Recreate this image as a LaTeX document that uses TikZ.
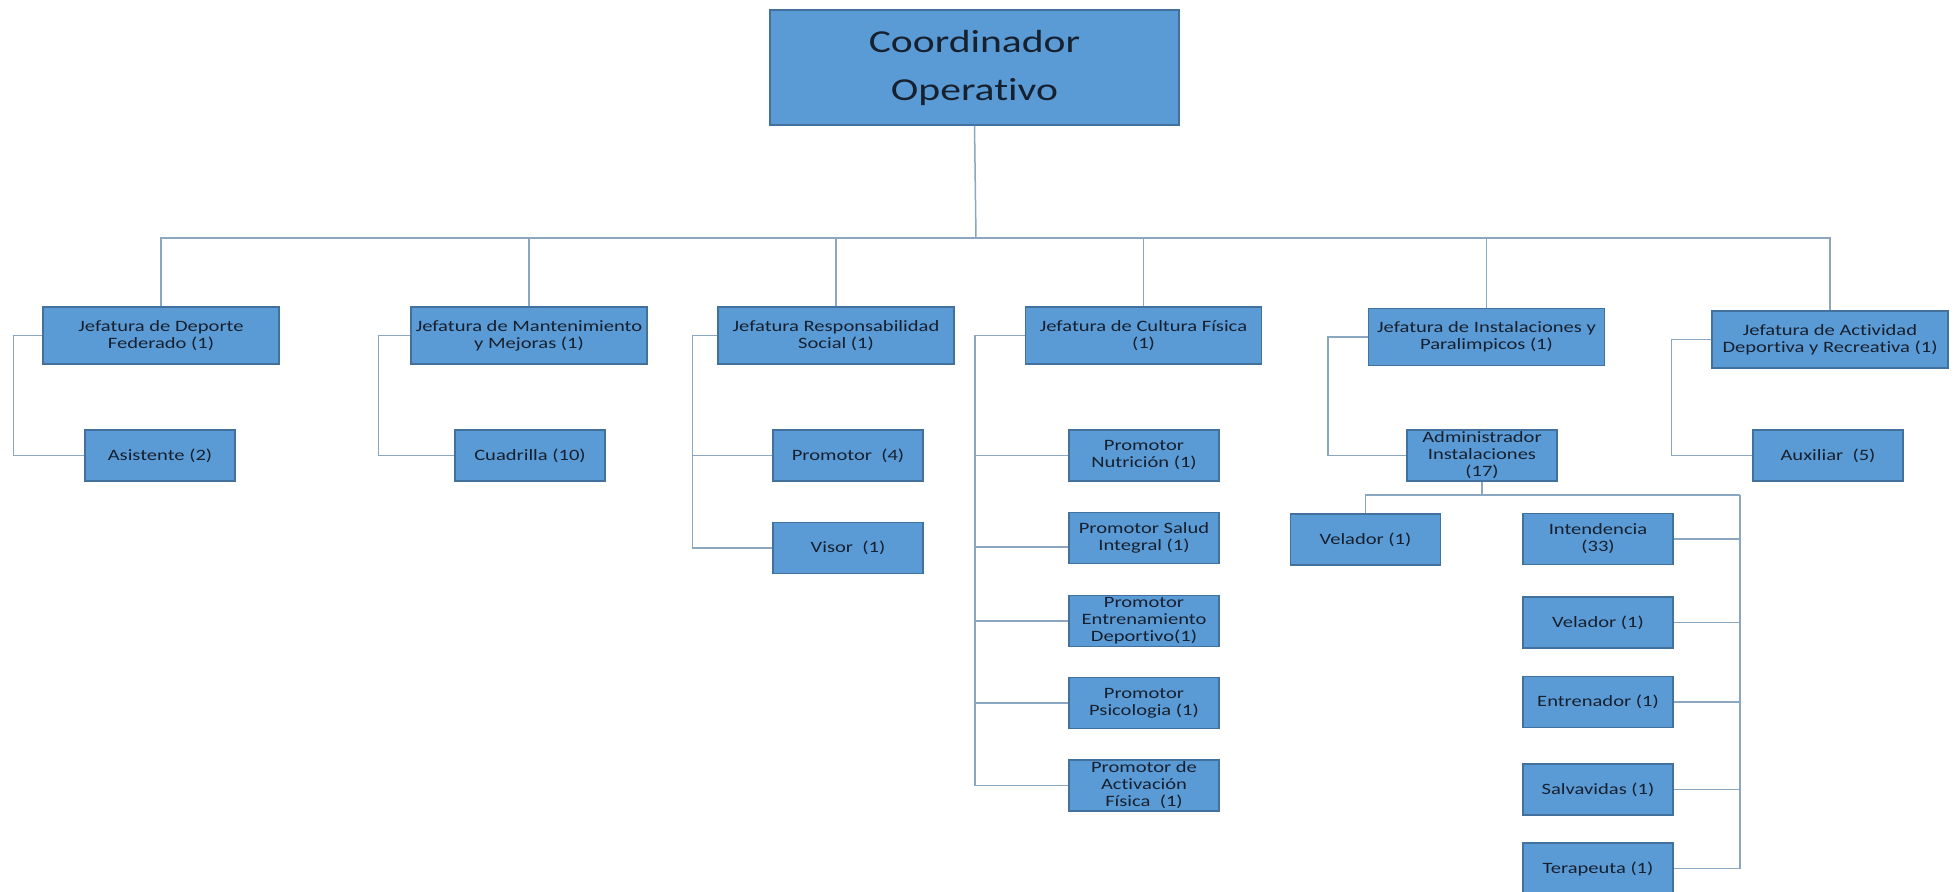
\documentclass[tikz,border=0pt]{standalone}
\usepackage{fontspec}
\setmainfont{Carlito}[FakeStretch=1.3, Ligatures={NoCommon}]
\definecolor{boxfill}{HTML}{5B9BD5}
\definecolor{boxline}{HTML}{41719C}
\definecolor{conn}{HTML}{8AA6C1}
\definecolor{txt}{HTML}{16202F}
\begin{document}
\begin{tikzpicture}[x=0.5pt,y=-0.5pt,
  box/.style={draw=boxline, line width=0.6pt, fill=boxfill, text=txt, align=center, inner sep=0pt,
    font=\fontsize{7.9}{8.5}\selectfont},
  head/.style={box, minimum width=118pt, minimum height=28.5pt},
  leaf/.style={box, minimum width=75pt, minimum height=25.5pt},
  link/.style={draw=conn, line width=0.75pt}]
\useasboundingbox (0,0) rectangle (1956,891);

% top
\node[box, minimum width=204.5pt, minimum height=57.5pt, font=\fontsize{16}{24}\selectfont] (top) at (974.5,67.5) {Coordinador\\Operativo};

% level 1
\node[head] (dep) at (161,335.5) {Jefatura de Deporte\\Federado (1)};
\node[head] (man) at (529,335.5) {Jefatura de Mantenimiento\\y Mejoras (1)};
\node[head] (res) at (836,335.5) {Jefatura Responsabilidad\\Social (1)};
\node[head] (cul) at (1143.5,335.5) {Jefatura de Cultura Física\\(1)};
\node[head] (ins) at (1486.5,337) {Jefatura de Instalaciones y\\Paralimpicos (1)};
\node[head] (act) at (1830,339.5) {Jefatura de Actividad\\Deportiva y Recreativa (1)};

% leaves
\node[leaf] (asi) at (160,455.5) {Asistente (2)};
\node[leaf] (cua) at (530,455.5) {Cuadrilla (10)};
\node[leaf] (pro) at (848,455.5) {Promotor\ \ (4)};
\node[leaf] (vis) at (848,548) {Visor\ \ (1)};
\node[leaf] (pnu) at (1144,455.5) {Promotor\\Nutrición (1)};
\node[leaf] (psa) at (1144,538) {Promotor Salud\\Integral (1)};
\node[leaf] (pen) at (1144,621) {Promotor\\Entrenamiento\\Deportivo(1)};
\node[leaf] (pps) at (1144,703) {Promotor\\Psicologia (1)};
\node[leaf] (paf) at (1144,785.5) {Promotor de\\Activación\\Física\ \ (1)};
\node[leaf] (adm) at (1482,455.5) {Administrador\\Instalaciones\\(17)};
\node[leaf] (aux) at (1828,455.5) {Auxiliar\ \ (5)};
\node[leaf] (vel1) at (1365.5,539.5) {Velador (1)};
\node[leaf] (int) at (1598,539) {Intendencia\\(33)};
\node[leaf] (vel2) at (1598,622.5) {Velador (1)};
\node[leaf] (ent) at (1598,702) {Entrenador (1)};
\node[leaf] (sal) at (1598,789.5) {Salvavidas (1)};
\node[leaf] (ter) at (1598,868.5) {Terapeuta (1)};

% connectors top level
\coordinate (bus) at (976,238);
\draw[link] (top.south) -- (bus);
\foreach \n in {dep,man,res,cul,ins,act} \draw[link] (\n.north) |- (bus);

% elbows
\draw[link] (dep.west) -- ++(-29,0) |- (asi.west);
\draw[link] (man.west) -- ++(-32,0) |- (cua.west);
\draw[link] (res.west) -- ++(-25,0) |- (pro.west);
\draw[link] (res.west) -- ++(-25,0) |- (vis.west);
\foreach \n in {pnu,pen,pps,paf} \draw[link] (cul.west) -- ++(-50,0) |- (\n.west);
\draw[link] (cul.west) -- ++(-50,0) |- ([yshift=-4.5pt]psa.west);
\draw[link] (ins.west) -- ++(-40,0) |- (adm.west);
\draw[link] (act.west) -- ++(-40,0) |- (aux.west);

% administrador subtree
\coordinate (abus) at (1482,495);
\coordinate (rbus) at (1740,495);
\draw[link] (adm.south) -- (abus);
\draw[link] (vel1.north) |- (rbus);
\foreach \n in {int,vel2,ent,sal,ter} \draw[link] (\n.east) -| (rbus);
\end{tikzpicture}
\end{document}
